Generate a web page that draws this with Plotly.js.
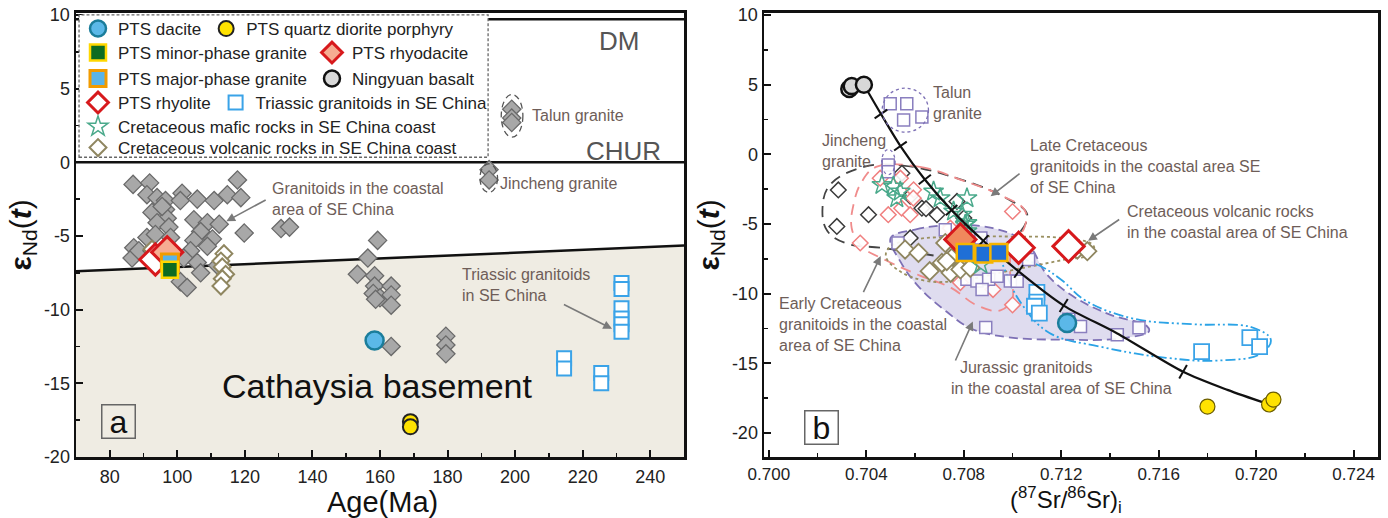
<!DOCTYPE html>
<html><head><meta charset="utf-8">
<script src="https://cdn.plot.ly/plotly-3.0.1.min.js"></script>
<style>html,body{margin:0;padding:0;background:#fff;}#chart{width:1388px;height:518px;}</style>
</head><body><div id="chart"></div>
<script>
// ================= Panel a : eNd(t) vs Age =================
const granitoidAge = [86.9,91.8,117.8,91.0,94.0,96.5,101.4,100.9,105.9,110.9,114.8,118.8,92.5,96.5,97.0,94.0,97.5,104.9,108.9,112.4,106.9,119.8,130.7,133.2,91.0,93.5,110.4,108.9,87.1,86.6,88.6,104.9,103.9,101.9,105.9,106.9,100.9,102.9,111.9,95.5,98.0,92.5,159.3,156.4,153.3,158.4,158.4,163.3,158.0,160.0,163.3,163.3,158.7,163.3,179.5,179.5,179.5];
const granitoidEnd = [-1.5,-1.4,-1.2,-2.2,-2.4,-2.6,-2.1,-2.6,-2.5,-2.6,-2.2,-2.4,-3.4,-3.2,-3.8,-4.1,-4.4,-3.9,-4.1,-4.2,-4.7,-4.8,-4.5,-4.4,-5.1,-4.9,-5.2,-5.7,-5.8,-6.5,-6.0,-5.3,-6.0,-6.5,-6.8,-7.5,-8.1,-8.5,-7.0,-3.0,-5.1,-6.0,-5.3,-6.5,-7.6,-7.7,-8.4,-8.4,-8.9,-9.2,-9.0,-9.7,-9.3,-12.5,-11.8,-12.4,-13.0];
const talunAge = [199,199,199];
const talunEndA = [3.6,3.0,2.7];
const jinchengAge = [192.3,192.3];
const jinchengEndA = [-0.5,-1.2];
const volcAge = [113.8,112.9,113.3,114.3,113.3,112.9,92.5];
const volcEndA = [-6.2,-6.7,-7.1,-7.6,-7.9,-8.4,-5.9];
const triasAge = [231.5,231.5,231.5,231.5,231.5,231.5,214.5,214.5,225.5,225.5];
const triasEndA = [-8.2,-8.6,-9.9,-10.6,-11.0,-11.5,-13.3,-14.0,-14.3,-15.0];
const daciteAge = [158.4];
const daciteEndA = [-12.1];
const qdpAge = [169,169];
const qdpEndA = [-17.6,-17.95];
const rhyoliteAge = [93.5];
const rhyoliteEndA = [-6.6];
const rhyodaciteAge = [97.0];
const rhyodaciteEndA = [-6.1];
const majorAge = [97.8];
const majorEndA = [-6.8];
const minorAge = [97.8];
const minorEndA = [-7.3];
const boundaryAge = [70,250];
const boundaryEnd = [-7.4,-5.65];
const churAge = [70,250];
const churEnd = [0,0];
const dmAge = [70,250];
const dmEnd = [9.7,9.7];

// tick labels
const ageTicks = [80,100,120,140,160,180,200,220,240];
const endTicks = [10,5,0,-5,-10,-15,-20];
const endTickText = ['10','5','0','-5','-10','-15','-20'];
const srTicks = [0.700,0.704,0.708,0.712,0.716,0.720,0.724];
const srTickText = ['0.700','0.704','0.708','0.712','0.716','0.720','0.724'];

// ================= Panel b : eNd(t) vs (87Sr/86Sr)i =================
const basaltSr = [0.7033,0.7034,0.7039];
const basaltEnd = [4.7,4.9,5.0];
const daciteSr = [0.71224];
const daciteEndB = [-12.1];
const qdpSr = [0.7180,0.72053,0.72071];
const qdpEndB = [-18.1,-17.95,-17.6];
const rhyoliteSr = [0.71025,0.7123];
const rhyoliteEndB = [-6.7,-6.6];
const rhyodaciteSr = [0.70786];
const rhyodaciteEndB = [-6.1];
const majorSr = [0.70806,0.70882,0.70944];
const majorEndB = [-7.05,-7.15,-7.05];
const mafSr = [0.70464,0.70511,0.70539,0.70525,0.70676,0.70703,0.70813,0.70758,0.70793,0.70806,0.70813,0.70813,0.7087];
const mafEnd = [-2.19,-2.31,-2.67,-3.14,-2.67,-3.14,-3.14,-4.09,-4.33,-5.04,-5.52,-4.93,-7.9];
const volcSr = [0.70559,0.70614,0.70724,0.7071,0.7075,0.7066,0.70746,0.70786,0.70827,0.71266,0.71307,0.7073];
const volcEndB = [-6.83,-7.07,-6.36,-7.79,-7.43,-8.38,-8.5,-8.26,-8.14,-6.83,-6.95,-7.66];
const triasSr = [0.7110,0.7110,0.7109,0.7111,0.71776,0.71974,0.72014];
const triasEndB = [-9.9,-10.6,-10.9,-11.4,-14.15,-13.15,-13.8];
const talunSr = [0.70498,0.70566,0.70553,0.70628];
const talunEndB = [3.64,3.64,2.46,2.69];
const jinchengSr = [0.7049,0.7049];
const jinchengEndB = [-0.76,-1.24];
const jurassicSr = [0.70724,0.7087,0.71066,0.70813,0.70854,0.70902,0.70937,0.70991,0.70875,0.7089,0.71279,0.71231,0.7143,0.71519,0.7053,0.71019];
const jurassicEnd = [-5.4,-6.0,-7.55,-8.97,-9.09,-8.97,-8.74,-9.09,-9.69,-12.43,-12.35,-11.83,-12.95,-12.45,-6.36,-9.1];
const lateCretSr = [0.70285,0.70409,0.70279,0.70546,0.7058,0.70628,0.70645,0.7069,0.70772,0.708,0.7058];
const lateCretEnd = [-2.55,-4.33,-5.17,-1.36,-3.0,-3.86,-3.9,-4.33,-3.38,-4.57,-6.0];
const earlyCretSr = [0.70457,0.7054,0.70594,0.7049,0.70545,0.7058,0.70593,0.70375,0.7100,0.70745,0.7100,0.70786,0.7092];
const earlyCretEnd = [-1.71,-1.71,-2.54,-4.33,-3.86,-4.33,-3.14,-6.36,-4.1,-5.3,-10.8,-9.2,-9.7];
const mixSr = [0.7039,0.7046,0.7054,0.7064,0.7075,0.7088,0.71025,0.7121,0.7143,0.7170,0.71882,0.72046];
const mixEnd = [5.0,2.9,0.6,-1.8,-4.0,-6.2,-8.4,-10.85,-12.85,-15.6,-16.9,-17.9];
const mixTickSr = [0.7046,0.7054,0.7064,0.7075,0.7088,0.71025,0.7121,0.7170];
const mixTickEnd = [2.9,0.6,-1.8,-4.0,-6.2,-8.4,-10.85,-15.6];
// field outlines (panel b)
const lateCretFieldSr = [0.7039,0.7055,0.7077,0.7097,0.7106,0.7102,0.7090,0.7084,0.7076,0.7062,0.7046,0.7032,0.7024,0.7022,0.7025,0.7039];
const lateCretFieldEnd = [-0.9,-0.8,-1.7,-3.1,-4.3,-5.8,-7.0,-7.7,-7.5,-7.1,-6.7,-6.4,-5.5,-3.9,-2.2,-0.9];
const earlyCretFieldSr = [0.7044,0.7062,0.7080,0.7096,0.7105,0.7105,0.7100,0.7099,0.7100,0.7095,0.7085,0.7075,0.7062,0.7048,0.7038,0.7034,0.7035,0.7038,0.7044];
const earlyCretFieldEnd = [-0.9,-0.9,-1.9,-3.0,-4.0,-5.2,-6.5,-8.5,-10.3,-11.2,-10.8,-9.6,-8.7,-7.6,-6.6,-5.3,-3.4,-2.0,-0.9];
const jurassicFieldSr = [0.7050,0.7060,0.7072,0.7092,0.7106,0.7114,0.7125,0.7140,0.7155,0.7156,0.7145,0.7120,0.7097,0.7083,0.7073,0.7062,0.7054,0.7050];
const jurassicFieldEnd = [-6.0,-5.4,-5.1,-5.3,-6.4,-8.6,-10.2,-11.5,-12.3,-12.7,-13.2,-13.3,-13.1,-12.5,-11.3,-9.6,-7.7,-6.0];
const volcFieldSr = [0.7050,0.7060,0.7080,0.7100,0.7120,0.7133,0.7133,0.7120,0.7100,0.7080,0.7065,0.7053,0.7048,0.7050];
const volcFieldEnd = [-6.6,-6.1,-5.9,-5.9,-6.0,-6.5,-7.1,-7.6,-8.3,-9.0,-9.1,-8.3,-7.3,-6.6];
const triasFieldSr = [0.7096,0.7110,0.7120,0.7130,0.7150,0.7175,0.7198,0.7206,0.7202,0.7184,0.7163,0.7136,0.7115,0.7104,0.7098,0.7096];
const triasFieldEnd = [-7.3,-7.9,-9.0,-10.5,-11.8,-12.2,-12.4,-13.3,-14.3,-14.8,-14.6,-13.8,-12.8,-10.8,-8.8,-7.3];

// ================= styles =================
const FONT = 'Liberation Sans, Arial, sans-serif';
const NOTE = '#6e5d58';
const traces = [];
function add(t){ traces.push(t); }

// ---- panel a ----
add({x:[boundaryAge[0],boundaryAge[1],boundaryAge[1],boundaryAge[0]], y:[boundaryEnd[0],boundaryEnd[1],-20,-20], xaxis:'x', yaxis:'y', mode:'lines', fill:'toself', fillcolor:'#efece3', line:{width:0}, showlegend:false, hoverinfo:'skip'});
add({x:boundaryAge, y:boundaryEnd, xaxis:'x', yaxis:'y', mode:'lines', line:{color:'#111', width:2.5}, showlegend:false});
add({x:churAge, y:churEnd, xaxis:'x', yaxis:'y', mode:'lines', line:{color:'#111', width:2.5}, showlegend:false});
add({x:dmAge, y:dmEnd, xaxis:'x', yaxis:'y', mode:'lines', line:{color:'#111', width:2.5}, showlegend:false});
const greyDia = {symbol:'diamond', size:14, color:'#a8a8a8', line:{color:'#6a6a6a', width:1.3}};
add({x:granitoidAge, y:granitoidEnd, xaxis:'x', yaxis:'y', mode:'markers', marker:greyDia, showlegend:false});
add({x:talunAge, y:talunEndA, xaxis:'x', yaxis:'y', mode:'markers', marker:greyDia, showlegend:false});
add({x:jinchengAge, y:jinchengEndA, xaxis:'x', yaxis:'y', mode:'markers', marker:greyDia, showlegend:false});

const sVolc = {symbol:'diamond', size:13, color:'#ffffff', line:{color:'#8f8660', width:2}};
const sTrias = {symbol:'square', size:14, color:'#ffffff', line:{color:'#3aa3e8', width:2}};
const sDacite = {symbol:'circle', size:18, color:'#5bb8e8', line:{color:'#1b7d9b', width:2.5}};
const sQdp = {symbol:'circle', size:15, color:'#ffe200', line:{color:'#222', width:2}};
const sRhyolite = {symbol:'diamond', size:24, color:'#ffffff', line:{color:'#d7191c', width:3}};
const sRhyodacite = {symbol:'diamond', size:24, color:'#f6ac92', line:{color:'#d7191c', width:3}};
const sMajorB = {symbol:'square', size:17, color:'#1f6fd6', line:{color:'#f5b400', width:2.5}};
const sMinor = {symbol:'square', size:16, color:'#0d6b22', line:{color:'#ffd700', width:2.5}};
const sBasalt = {symbol:'circle', size:16, color:'#d8d8d8', line:{color:'#111', width:2.5}};
const sMaf = {symbol:'star-open', size:15, color:'#4aa98b', line:{color:'#4aa98b', width:1.5}};

add({x:volcAge, y:volcEndA, xaxis:'x', yaxis:'y', mode:'markers', marker:sVolc, name:'Cretaceous volcanic rocks in SE China coast', legend:'legend6'});
add({x:triasAge, y:triasEndA, xaxis:'x', yaxis:'y', mode:'markers', marker:sTrias, name:'Triassic granitoids in SE China', legend:'legend4', legendrank:2});
add({x:daciteAge, y:daciteEndA, xaxis:'x', yaxis:'y', mode:'markers', marker:sDacite, name:'PTS dacite', legend:'legend', legendrank:1});
add({x:qdpAge, y:qdpEndA, xaxis:'x', yaxis:'y', mode:'markers', marker:sQdp, name:'PTS quartz diorite porphyry', legend:'legend', legendrank:2});
add({x:rhyoliteAge, y:rhyoliteEndA, xaxis:'x', yaxis:'y', mode:'markers', marker:sRhyolite, name:'PTS rhyolite', legend:'legend4', legendrank:1});
add({x:rhyodaciteAge, y:rhyodaciteEndA, xaxis:'x', yaxis:'y', mode:'markers', marker:sRhyodacite, name:'PTS rhyodacite', legend:'legend2', legendrank:2});
add({x:majorAge, y:majorEndA, xaxis:'x', yaxis:'y', mode:'markers', marker:{symbol:'square', size:17, color:'#5ab4e8', line:{color:'#f29b00', width:3}}, name:'PTS major-phase granite', legend:'legend3', legendrank:1});
add({x:minorAge, y:minorEndA, xaxis:'x', yaxis:'y', mode:'markers', marker:sMinor, name:'PTS minor-phase granite', legend:'legend2', legendrank:1});

// ---- panel b ----
add({x:jurassicFieldSr, y:jurassicFieldEnd, xaxis:'x2', yaxis:'y2', mode:'lines', fill:'toself', fillcolor:'rgba(172,162,214,0.38)', line:{color:'#7d70b5', width:1.8, dash:'9px,5px', shape:'spline', smoothing:1.1}, showlegend:false, hoverinfo:'skip'});
add({x:lateCretFieldSr, y:lateCretFieldEnd, xaxis:'x2', yaxis:'y2', mode:'lines', line:{color:'#444', width:1.8, dash:'11px,7px', shape:'spline', smoothing:1.1}, showlegend:false, hoverinfo:'skip'});
add({x:earlyCretFieldSr, y:earlyCretFieldEnd, xaxis:'x2', yaxis:'y2', mode:'lines', line:{color:'#f08c8c', width:1.8, dash:'11px,7px', shape:'spline', smoothing:1.1}, showlegend:false, hoverinfo:'skip'});
add({x:volcFieldSr, y:volcFieldEnd, xaxis:'x2', yaxis:'y2', mode:'lines', line:{color:'#9a9060', width:1.8, dash:'dot', shape:'spline', smoothing:1.1}, showlegend:false, hoverinfo:'skip'});
add({x:triasFieldSr, y:triasFieldEnd, xaxis:'x2', yaxis:'y2', mode:'lines', line:{color:'#2ba3e6', width:1.8, dash:'10px,3px,2px,3px,2px,3px', shape:'spline', smoothing:1.1}, showlegend:false, hoverinfo:'skip'});

add({x:lateCretSr, y:lateCretEnd, xaxis:'x2', yaxis:'y2', mode:'markers', marker:{symbol:'diamond', size:12, color:'rgba(255,255,255,0.9)', line:{color:'#3a3a3a', width:1.5}}, showlegend:false});
add({x:earlyCretSr, y:earlyCretEnd, xaxis:'x2', yaxis:'y2', mode:'markers', marker:{symbol:'diamond', size:12, color:'rgba(255,255,255,0.9)', line:{color:'#f08080', width:1.5}}, showlegend:false});
add({x:jurassicSr, y:jurassicEnd, xaxis:'x2', yaxis:'y2', mode:'markers', marker:{symbol:'square', size:12, color:'rgba(255,255,255,0.9)', line:{color:'#8a7fbf', width:1.5}}, showlegend:false});
add({x:talunSr, y:talunEndB, xaxis:'x2', yaxis:'y2', mode:'markers', marker:{symbol:'square', size:12, color:'rgba(255,255,255,0.9)', line:{color:'#8a7fbf', width:1.5}}, showlegend:false});
add({x:jinchengSr, y:jinchengEndB, xaxis:'x2', yaxis:'y2', mode:'markers', marker:{symbol:'square', size:12, color:'rgba(255,255,255,0.9)', line:{color:'#8a7fbf', width:1.5}}, showlegend:false});
add({x:volcSr, y:volcEndB, xaxis:'x2', yaxis:'y2', mode:'markers', marker:{symbol:'diamond', size:14, color:'#ffffff', line:{color:'#8f8660', width:1.8}}, showlegend:false});
add({x:mafSr, y:mafEnd, xaxis:'x2', yaxis:'y2', mode:'markers', marker:sMaf, name:'Cretaceous mafic rocks in SE China coast', legend:'legend5'});
add({x:triasSr, y:triasEndB, xaxis:'x2', yaxis:'y2', mode:'markers', marker:{symbol:'square', size:15, color:'#ffffff', line:{color:'#3aa3e8', width:1.8}}, showlegend:false});

add({x:mixSr, y:mixEnd, xaxis:'x2', yaxis:'y2', mode:'lines', line:{color:'#111', width:2.2, shape:'spline', smoothing:0.8}, showlegend:false});
add({x:mixTickSr, y:mixTickEnd, xaxis:'x2', yaxis:'y2', mode:'markers', marker:{symbol:'line-ew', size:11, color:'#111', angle:[-35,-35,-38,-42,-48,-55,-58,-60], line:{color:'#111', width:2}}, showlegend:false});

add({x:basaltSr, y:basaltEnd, xaxis:'x2', yaxis:'y2', mode:'markers', marker:sBasalt, name:'Ningyuan basalt', legend:'legend3', legendrank:2});
add({x:rhyodaciteSr, y:rhyodaciteEndB, xaxis:'x2', yaxis:'y2', mode:'markers', marker:{symbol:'diamond', size:24, color:'#f0895c', line:{color:'#d7191c', width:3}}, showlegend:false});
add({x:rhyoliteSr, y:rhyoliteEndB, xaxis:'x2', yaxis:'y2', mode:'markers', marker:sRhyolite, showlegend:false});
add({x:majorSr, y:majorEndB, xaxis:'x2', yaxis:'y2', mode:'markers', marker:sMajorB, showlegend:false});
add({x:daciteSr, y:daciteEndB, xaxis:'x2', yaxis:'y2', mode:'markers', marker:sDacite, showlegend:false});
add({x:qdpSr, y:qdpEndB, xaxis:'x2', yaxis:'y2', mode:'markers', marker:{symbol:'circle', size:15, color:'#ffe200', line:{color:'#6b5d00', width:1.2}}, showlegend:false});

// ================= layout =================
const W = 1388, H = 518;
const pyTop = 12.7, pyBot = 457;
function legendRow(py){ return {orientation:'h', x:78/W, xanchor:'left', y:1-py/H, yanchor:'middle', bgcolor:'rgba(0,0,0,0)', borderwidth:0, font:{family:FONT, size:17, color:'#222'}, itemclick:false, itemdoubleclick:false, traceorder:'normal', tracegroupgap:0}; }

const axCommon = {showline:true, linecolor:'#111', linewidth:2.5, mirror:true, ticks:'inside', ticklen:7, tickwidth:2, tickcolor:'#111', showgrid:false, zeroline:false, tickfont:{family:FONT, size:18, color:'#222'}, automargin:false};

const ann = [];
function note(x, y, text, xref, yref, opts){ ann.push(Object.assign({x:x, y:y, xref:xref, yref:yref, text:text, showarrow:false, font:{family:FONT, size:16, color:NOTE}, xanchor:'left', align:'left'}, opts||{})); }
function arrow(x, y, ax, ay, xref, yref){ ann.push({x:x, y:y, ax:ax, ay:ay, xref:xref, yref:yref, axref:xref, ayref:yref, text:'', showarrow:true, arrowhead:2, arrowsize:1.1, arrowwidth:1.6, arrowcolor:'#7a7a7a'}); }

// axis titles (x) placed below tick labels
note(382/W, 1-502/H, 'Age(Ma)', 'paper', 'paper', {xanchor:'center', yanchor:'middle', align:'center', font:{family:FONT, size:29, color:'#111'}});
note(1066/W, 1-500/H, '(<sup>87</sup>Sr/<sup>86</sup>Sr)<sub>i</sub>', 'paper', 'paper', {xanchor:'center', yanchor:'middle', align:'center', font:{family:FONT, size:24, color:'#111'}});

// panel a notes
note(230.7, 8.2, 'DM', 'x', 'y', {xanchor:'center', font:{family:FONT, size:26, color:'#555'}});
note(232, 0.75, 'CHUR', 'x', 'y', {xanchor:'center', font:{family:FONT, size:26, color:'#555'}});
note(204.3, 3.15, 'Talun granite', 'x', 'y');
note(195.0, -1.45, 'Jincheng granite', 'x', 'y');
note(127.5, -2.5, 'Granitoids in the coastal<br>area of SE China', 'x', 'y');
note(183.7, -8.3, 'Triassic granitoids<br>in SE China', 'x', 'y');
note(159.3, -15.2, 'Cathaysia basement', 'x', 'y', {xanchor:'center', font:{family:FONT, size:34, color:'#111'}});
note(82.5, -17.6, 'a', 'x', 'y', {xanchor:'center', yanchor:'middle', align:'center', valign:'middle', font:{family:FONT, size:32, color:'#111'}, bordercolor:'#666', borderwidth:1.5, borderpad:0, width:32, height:32});
arrow(114.5, -4.0, 126.6, -2.5, 'x', 'y');
arrow(228.7, -11.3, 214.0, -9.6, 'x', 'y');

// panel b notes
note(0.70664, 3.7, 'Talun<br>granite', 'x2', 'y2');
note(0.70208, 0.25, 'Jincheng<br>granite', 'x2', 'y2');
note(0.71064, -0.9, 'Late Cretaceous<br>granitoids in the coastal area SE<br>of SE China', 'x2', 'y2');
note(0.71463, -4.85, 'Cretaceous volcanic rocks<br>in the coastal area of SE China', 'x2', 'y2');
note(0.70035, -12.2, 'Early Cretaceous<br>granitoids in the coastal<br>area of SE China', 'x2', 'y2');
note(0.70740, -16.05, '  Jurassic granitoids<br>in the coastal area of SE China', 'x2', 'y2');
note(0.70218, -19.62, 'b', 'x2', 'y2', {xanchor:'center', yanchor:'middle', align:'center', valign:'middle', font:{family:FONT, size:32, color:'#111'}, bordercolor:'#666', borderwidth:1.5, borderpad:0, bgcolor:'#fff', width:32, height:32});
arrow(0.7091, -3.0, 0.71035, -1.3, 'x2', 'y2');
arrow(0.7131, -6.2, 0.71444, -4.6, 'x2', 'y2');
arrow(0.70459, -7.3, 0.70385, -10.0, 'x2', 'y2');
arrow(0.70837, -12.0, 0.70763, -14.9, 'x2', 'y2');

const shapes = [
  {type:'rect', xref:'x', yref:'y', x0:70.9, x1:192, y0:0.34, y1:10.0, fillcolor:'#ffffff', line:{color:'#666', width:1.3, dash:'3px,2px'}, layer:'above'},
  {type:'circle', xref:'x', yref:'y', x0:195.9, x1:202.3, y0:1.7, y1:4.6, line:{color:'#555', width:1.3, dash:'6px,4px'}},
  {type:'circle', xref:'x', yref:'y', x0:189.6, x1:194.8, y0:-2.05, y1:-0.1, line:{color:'#555', width:1.3, dash:'6px,4px'}},
  {type:'circle', xref:'x2', yref:'y2', x0:0.70465, x1:0.70655, y0:1.6, y1:4.75, line:{color:'#7d70b5', width:1.3, dash:'dot'}},
  {type:'circle', xref:'x2', yref:'y2', x0:0.70463, x1:0.70518, y0:-1.45, y1:0.35, line:{color:'#7d70b5', width:1.3, dash:'dot'}}
];

const minorX = {ticks:'inside', ticklen:4, tickwidth:1.5, tickcolor:'#111'};
const layout = {
  width:W, height:H, margin:{l:0, r:0, t:0, b:0}, paper_bgcolor:'#fff', plot_bgcolor:'#fff',
  font:{family:FONT}, showlegend:true,
  xaxis: Object.assign({}, axCommon, {domain:[76/W, 684/W], range:[70,250], tickmode:'array', tickvals:ageTicks, ticktext:ageTicks.map(String), ticklabelstandoff:2,
    minor:Object.assign({dtick:10, tick0:0}, minorX), anchor:'y'}),
  yaxis: Object.assign({}, axCommon, {domain:[(H-pyBot)/H, (H-pyTop)/H], range:[-20,10.15], tickmode:'array', tickvals:endTicks, ticktext:endTickText,
    minor:Object.assign({dtick:2.5, tick0:0}, minorX), anchor:'x',
    title:{text:'<b>ε</b><sub>Nd</sub>(<b><i>t</i></b>)', font:{family:FONT, size:30, color:'#111'}, standoff:4}}),
  xaxis2: Object.assign({}, axCommon, {domain:[764/W, 1378/W], range:[0.6998,0.7250], tickmode:'array', tickvals:srTicks, ticktext:srTickText, ticklabelstandoff:0, tickfont:{family:FONT, size:17, color:'#222'},
    minor:Object.assign({dtick:0.002, tick0:0.7}, minorX), anchor:'y2'}),
  yaxis2: Object.assign({}, axCommon, {domain:[(H-pyBot)/H, (H-pyTop)/H], range:[-21.72,10.17], tickmode:'array', tickvals:endTicks, ticktext:endTickText,
    minor:Object.assign({dtick:2.5, tick0:0}, minorX), anchor:'x2',
    title:{text:'<b>ε</b><sub>Nd</sub>(<b><i>t</i></b>)', font:{family:FONT, size:30, color:'#111'}, standoff:4}}),
  legend: legendRow(29), legend2: legendRow(53), legend3: legendRow(79), legend4: legendRow(103), legend5: legendRow(127), legend6: legendRow(148),
  annotations: ann, shapes: shapes
};

Plotly.newPlot('chart', traces, layout, {displayModeBar:false, staticPlot:true});
</script>
</body></html>
